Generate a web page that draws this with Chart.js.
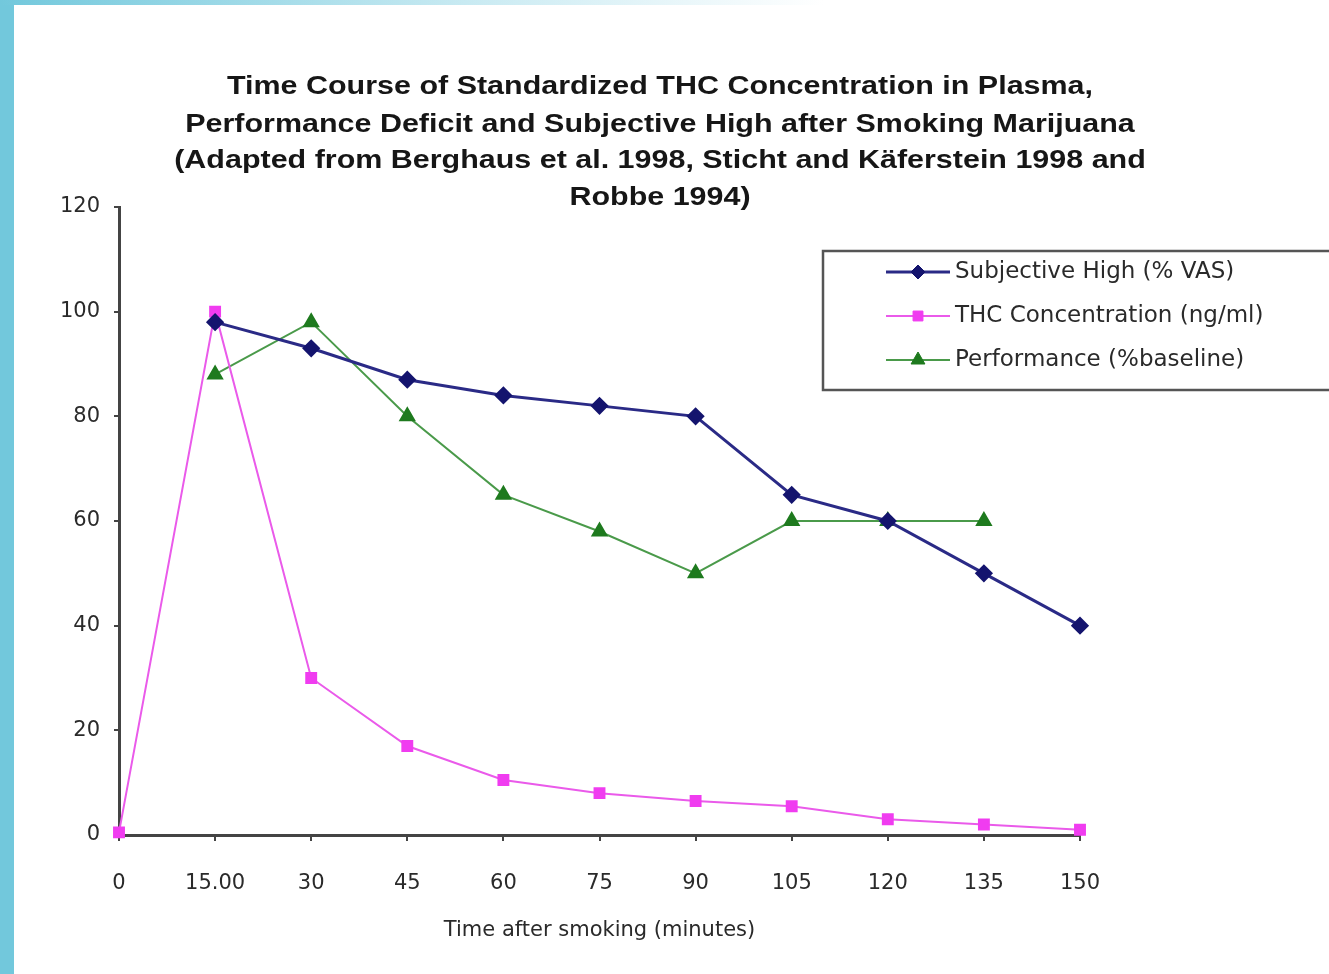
<!DOCTYPE html>
<html>
<head>
<meta charset="utf-8">
<script src="https://cdn.jsdelivr.net/npm/chart.js@4/dist/chart.umd.min.js"></script>
<style>
  html, body { margin: 0; padding: 0; background: #fff; }
  #wrap { position: relative; width: 1329px; height: 974px; overflow: hidden; }
  #leftBar { position: absolute; left: 0; top: 0; width: 14px; height: 974px; background: #72c8dc; }
  #topBar { position: absolute; left: 0; top: 0; width: 1329px; height: 5px;
            background: linear-gradient(to right, #72c8dc 0%, #c8eaf2 35%, #ffffff 62%); }
  #chart { position: absolute; left: 0; top: 0; }
</style>
</head>
<body>
<div id="wrap">
  <canvas id="chart" width="1329" height="974"></canvas>
  <div id="leftBar"></div>
  <div id="topBar"></div>
</div>
<script>
// ---- data ----
const timeLabels = ['0', '15.00', '30', '45', '60', '75', '90', '105', '120', '135', '150'];
const subjectiveHigh = [null, 98, 93, 87, 84, 82, 80, 65, 60, 50, 40];
const thcConcentration = [0.5, 100, 30, 17, 10.5, 8, 6.5, 5.5, 3, 2, 1];
const performance = [null, 88, 98, 80, 65, 58, 50, 60, 60, 60, null];
const seriesNames = ['Subjective High (% VAS)', 'THC Concentration (ng/ml)', 'Performance (%baseline)'];
const titleLines = [
  'Time Course of Standardized THC Concentration in Plasma,',
  'Performance Deficit and Subjective High after Smoking Marijuana',
  '(Adapted from Berghaus et al. 1998, Sticht and Käferstein 1998 and',
  'Robbe 1994)'
];
const yMin = 0, yMax = 120, yStep = 20;

const tickFont = '"DejaVu Sans", Verdana, sans-serif';

// title drawn on the canvas, fitted to the width of the original
const titlePlugin = {
  id: 'titleLines',
  afterDraw(chart) {
    const ctx = chart.ctx;
    ctx.save();
    ctx.font = 'bold 26px "Liberation Sans", Arial, sans-serif';
    ctx.fillStyle = '#161616';
    ctx.textAlign = 'center';
    ctx.textBaseline = 'middle';
    const sx = 866 / ctx.measureText(titleLines[0]).width;
    const ys = [87, 125, 161, 198];
    titleLines.forEach((line, i) => {
      ctx.save();
      ctx.translate(660, ys[i]);
      ctx.scale(sx, 1);
      ctx.fillText(line, 0, 0);
      ctx.restore();
    });
    ctx.restore();
  }
};

// boxed legend like the original, sitting inside the plot
const legendPlugin = {
  id: 'boxLegend',
  afterDraw(chart) {
    const ctx = chart.ctx;
    ctx.save();
    ctx.strokeStyle = '#555';
    ctx.lineWidth = 2.5;
    ctx.strokeRect(823, 251, 560, 139);
    ctx.font = '23px ' + tickFont;
    ctx.textAlign = 'left';
    ctx.textBaseline = 'middle';
    const rows = [272, 316, 360];
    chart.data.datasets.forEach((ds, i) => {
      const y = rows[i];
      ctx.strokeStyle = ds.borderColor;
      ctx.lineWidth = ds.borderWidth;
      ctx.beginPath();
      ctx.moveTo(886, y);
      ctx.lineTo(950, y);
      ctx.stroke();
      ctx.fillStyle = ds.pointBackgroundColor;
      ctx.strokeStyle = ds.pointBorderColor;
      ctx.lineWidth = 1;
      Chart.helpers.drawPoint(ctx, {
        pointStyle: ds.pointStyle, radius: ds.pointRadius, borderWidth: 1
      }, 918, y);
      ctx.fillStyle = '#2a2a2a';
      ctx.fillText(ds.label, 955, y);
    });
    ctx.restore();
  }
};

new Chart(document.getElementById('chart'), {
  type: 'line',
  data: {
    labels: timeLabels,
    datasets: [
      {
        label: seriesNames[0],
        data: subjectiveHigh,
        borderColor: '#2a2a86',
        borderWidth: 3,
        pointStyle: 'rectRot',
        pointRadius: 7,
        pointBackgroundColor: '#14146e',
        pointBorderColor: '#14146e',
        tension: 0
      },
      {
        label: seriesNames[1],
        data: thcConcentration,
        borderColor: '#ea5aea',
        borderWidth: 2,
        pointStyle: 'rect',
        pointRadius: 7,
        pointBackgroundColor: '#f03cf0',
        pointBorderColor: '#f03cf0',
        tension: 0
      },
      {
        label: seriesNames[2],
        data: performance,
        borderColor: '#4a9a4a',
        borderWidth: 2,
        pointStyle: 'triangle',
        pointRadius: 8,
        pointBackgroundColor: '#1e7a1e',
        pointBorderColor: '#1e7a1e',
        tension: 0
      }
    ]
  },
  options: {
    responsive: false,
    animation: false,
    clip: false,
    layout: { padding: { top: 207, right: 249, left: 0, bottom: 0 } },
    plugins: {
      legend: { display: false },
      title: { display: false },
      tooltip: { enabled: false }
    },
    scales: {
      x: {
        type: 'category',
        offset: false,
        afterFit: s => { s.height = 139; },
        grid: { drawOnChartArea: false, drawTicks: true, tickLength: 6, color: '#444', lineWidth: 2, offset: false },
        border: { display: true, color: '#444', width: 3 },
        ticks: {
          color: '#2a2a2a', padding: 30, maxRotation: 0, autoSkip: false,
          font: { family: tickFont, size: 21 }
        },
        title: {
          display: true, text: 'Time after smoking (minutes)', color: '#2a2a2a',
          font: { family: tickFont, size: 21 },
          padding: { top: 0, bottom: 31 }
        }
      },
      y: {
        min: yMin, max: yMax,
        afterFit: s => { s.width = 119; },
        grid: { drawOnChartArea: false, drawTicks: true, tickLength: 5, color: '#444', lineWidth: 2 },
        border: { display: true, color: '#444', width: 3 },
        ticks: {
          stepSize: yStep, color: '#2a2a2a', padding: 14,
          font: { family: tickFont, size: 21 }
        }
      }
    }
  },
  plugins: [titlePlugin, legendPlugin]
});
</script>
</body>
</html>
